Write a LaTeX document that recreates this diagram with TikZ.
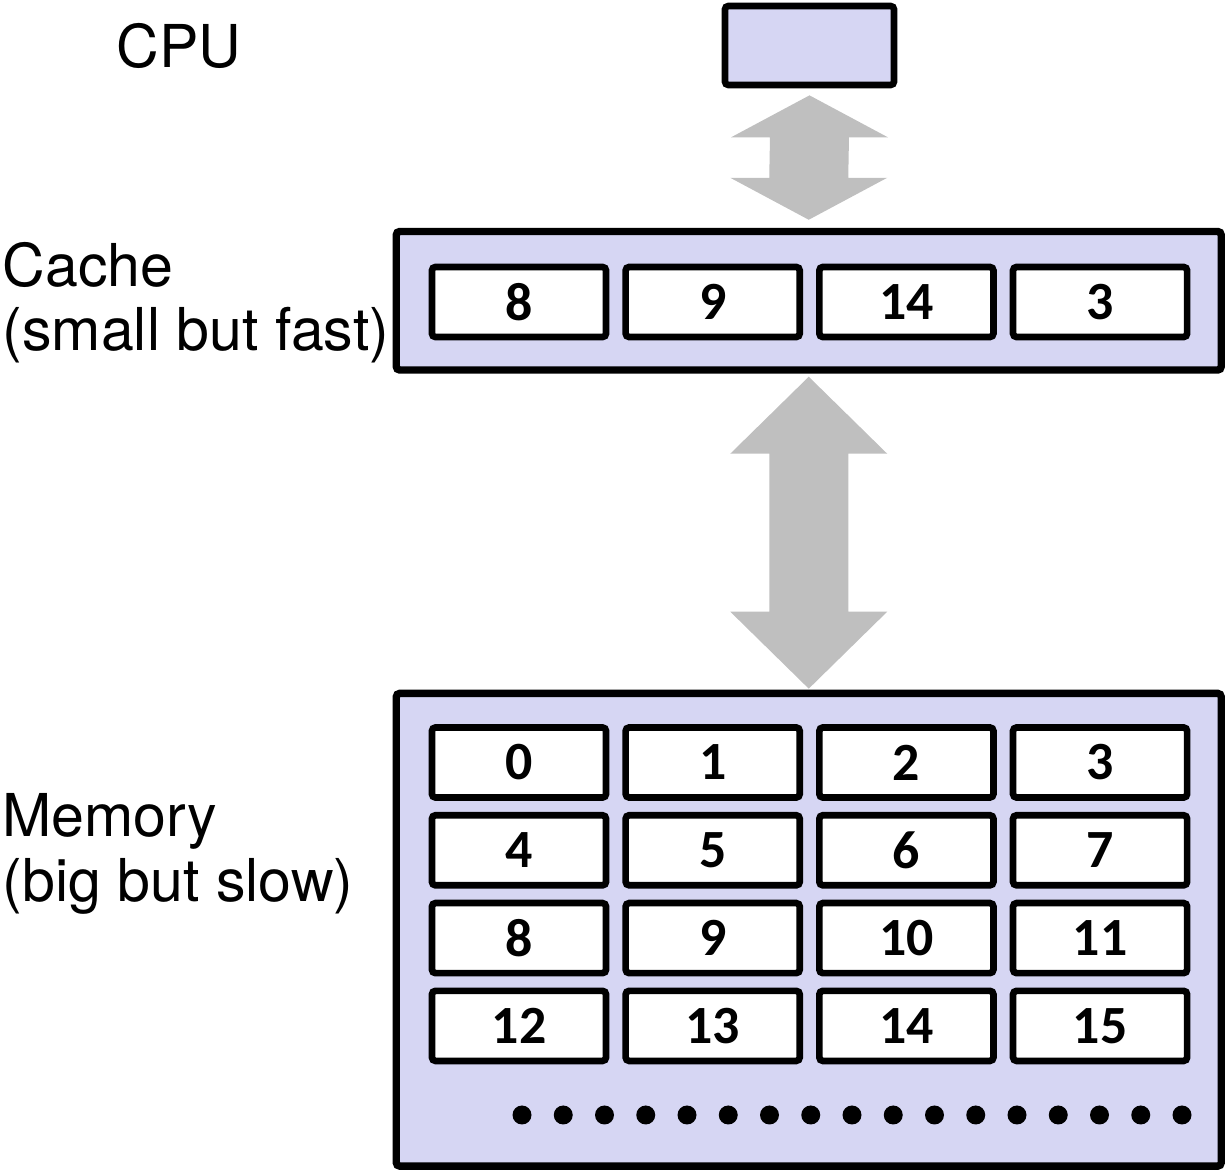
\documentclass[tikz,border=0pt]{standalone}
\usepackage{fontspec}
\usetikzlibrary{calc}

\newfontfamily\labelfont{TeX Gyre Heros}
\newfontfamily\cellfont{Carlito}
\definecolor{boxfill}{HTML}{D6D6F3}
\definecolor{arrowfill}{HTML}{BFBFBF}

\tikzset{
  bigbox/.style={draw, line width=2.1pt, fill=boxfill, rounded corners=1pt, inner sep=0pt},
  cell/.style={draw, line width=1.9pt, fill=white, rounded corners=1pt, inner sep=0pt,
    minimum width=1.74cm, minimum height=0.70cm, font=\cellfont\bfseries\fontsize{15.3}{15}\selectfont},
  lbl/.style={anchor=base west, inner sep=0pt, font=\labelfont\fontsize{16.8}{18}\selectfont},
}

% block arrow between two apex points, #3 = head length
\newcommand{\bigarrow}[3]{%
  \fill[arrowfill] (#1) -- ($(#1)+(78.5,#3)$) -- ($(#1)+(39.5,#3)$) -- ($(#2)+(39.5,-#3)$)
    -- ($(#2)+(78.5,-#3)$) -- (#2) -- ($(#2)+(-78.5,-#3)$) -- ($(#2)+(-39.5,-#3)$)
    -- ($(#1)+(-39.5,#3)$) -- ($(#1)+(-78.5,#3)$) -- cycle;
}

\begin{document}
\begin{tikzpicture}[x=0.01cm, y=-0.01cm]
        \useasboundingbox (0,0) rectangle (1226,1170);

        % labels
        \node[lbl] (cpulbl) at (116,68) {CPU};
        \node[lbl] (cachelbl) at (2,287) {Cache};
        \node[lbl] (cachesub) at (2,351) {(small but fast)};
        \node[lbl] (memlbl) at (2,837) {Memory};
        \node[lbl] (memsub) at (2,902) {(big but slow)};

        % boxes
        \node[bigbox, line width=1.9pt, minimum width=1.69cm, minimum height=0.79cm] (cpu) at (809.5,45.5) {};
        \node[bigbox, minimum width=8.245cm, minimum height=1.385cm] (cache) at (808.75,300.75) {};
        \node[bigbox, minimum width=8.245cm, minimum height=4.725cm] (mem) at (808.75,929.75) {};

        % cache lines
        \foreach \v [count=\j from 0] in {8,9,14,3}
          \node[cell] (cc\j) at (519+193.7*\j,302) {\v};

        % memory lines
        \foreach \r in {0,...,3}
          \foreach \c in {0,...,3} {
            \pgfmathtruncatemacro{\n}{4*\r+\c}
            \node[cell] (m\n) at (519+193.7*\c,762.5+87.8*\r) {\n};
          }

        \foreach \i in {0,...,16}
          \fill (522+41.25*\i,1115) circle (9.5);

        % arrows
        \coordinate (up1) at ($(cpu.south)+(0,7)$);
        \coordinate (up2) at ($(cache.north)+(0,-8)$);
        \coordinate (lo1) at ($(cache.south)+(0,3)$);
        \coordinate (lo2) at ($(mem.north)+(0,-1)$);
        \bigarrow{up1}{up2}{42}
        \bigarrow{lo1}{lo2}{77}
\end{tikzpicture}
\end{document}
